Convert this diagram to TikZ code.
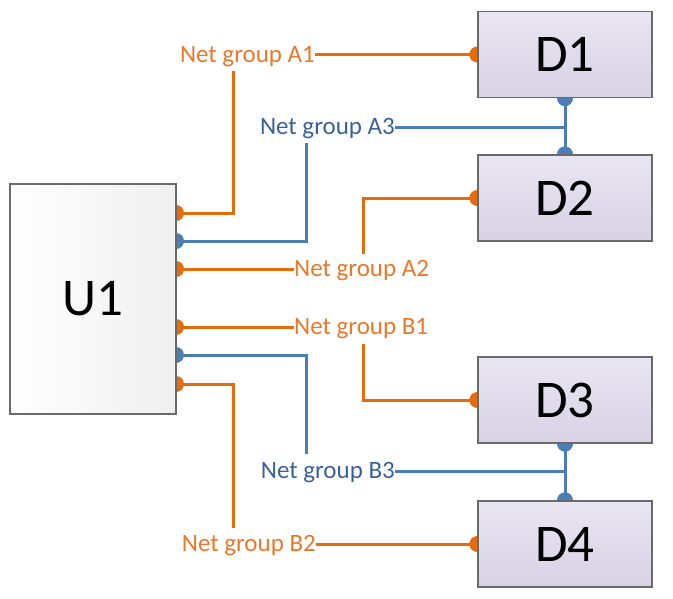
\documentclass[tikz,border=0pt]{standalone}
\usepackage{fontspec}
\setmainfont{Carlito}
\usetikzlibrary{calc}
\definecolor{org}{HTML}{E46C0A}
\definecolor{orgtxt}{HTML}{E8782A}
\definecolor{blu}{HTML}{4A7EB4}
\definecolor{blutxt}{HTML}{3A629A}
\definecolor{dtop}{HTML}{E9E6F2}
\definecolor{dbot}{HTML}{D8D2E5}
\definecolor{edge}{HTML}{6A6A6A}
\pgfdeclarelayer{bg}
\pgfsetlayers{bg,main}
\begin{document}
\begin{tikzpicture}[x=1pt,y=-1pt,
  dbox/.style={draw=edge, line width=1.4pt, top color=dtop, bottom color=dbot,
    minimum width=174pt, minimum height=86pt, inner sep=0pt,
    font=\fontsize{53}{57}\selectfont},
  ubox/.style={draw=edge, line width=1.4pt, left color=white, right color=black!6,
    minimum width=166pt, minimum height=230pt, inner sep=0pt,
    font=\fontsize{53}{57}\selectfont},
  wire/.style={line width=3pt},
  owire/.style={wire, draw=org},
  bwire/.style={wire, draw=blu},
  lab/.style={inner sep=0pt, font=\fontsize{25}{29}\selectfont},
  olab/.style={lab, text=orgtxt},
  blab/.style={lab, text=blutxt},
  pinr/.style={radius=8pt}
]
\useasboundingbox (0,0) rectangle (673,598);

% boxes
\node[ubox] (U1) at (93,299) {U1};
\node[dbox] (D1) at (565,54.5) {D1};
\node[dbox] (D2) at (565,198) {D2};
\node[dbox] (D3) at (565,400) {D3};
\node[dbox] (D4) at (565,544) {D4};

% U1 pins
\coordinate (pA1) at (176,213);
\coordinate (pA3) at (176,241);
\coordinate (pA2) at (176,269);
\coordinate (pB1) at (176,327);
\coordinate (pB3) at (176,355);
\coordinate (pB2) at (176,384);

% junctions and free ends
\coordinate (jA) at (565,127);
\coordinate (jB) at (565,471);
\coordinate (kA1) at (233,71);
\coordinate (kA3) at (306,143);
\coordinate (kA2) at (363,254);
\coordinate (kB1) at (363,344);
\coordinate (kB3) at (306,454);
\coordinate (kB2) at (233,528);

% labels
\node[olab, anchor=base east] (lA1) at (315,62.3) {Net group A1};
\node[blab, anchor=base east] (lA3) at (395,134.8) {Net group A3};
\node[olab, anchor=base west] (lA2) at (294,276.8) {Net group A2};
\node[olab, anchor=base west] (lB1) at (294,334.8) {Net group B1};
\node[blab, anchor=base east] (lB3) at (395,478.8) {Net group B3};
\node[olab, anchor=base east] (lB2) at (316,551.8) {Net group B2};

\begin{pgfonlayer}{bg}
  % pins
  \foreach \p in {pA1,pA2,pB1,pB2} \fill[org] (\p) circle[pinr];
  \foreach \p in {pA3,pB3} \fill[blu] (\p) circle[pinr];
  \foreach \d in {D1,D2,D3,D4} \fill[org] (\d.west) circle[pinr];
  \fill[blu] (D1.south) circle[pinr];
  \fill[blu] (D2.north) circle[pinr];
  \fill[blu] (D3.south) circle[pinr];
  \fill[blu] (D4.north) circle[pinr];

  % group A
  \draw[owire] (pA1) -| (kA1);
  \draw[owire] (lA1.east |- D1.west) -- (D1.west);
  \draw[bwire] (pA3) -| (kA3);
  \draw[bwire] (lA3.east |- jA) -- (jA);
  \draw[bwire] (D1.south) -- (D2.north);
  \draw[owire] (pA2) -- (lA2.west |- pA2);
  \draw[owire] (kA2) |- (D2.west);

  % group B
  \draw[owire] (pB1) -- (lB1.west |- pB1);
  \draw[owire] (kB1) |- (D3.west);
  \draw[bwire] (pB3) -| (kB3);
  \draw[bwire] (lB3.east |- jB) -- (jB);
  \draw[bwire] (D3.south) -- (D4.north);
  \draw[owire] (pB2) -| (kB2);
  \draw[owire] (lB2.east |- D4.west) -- (D4.west);
\end{pgfonlayer}
\end{tikzpicture}
\end{document}
